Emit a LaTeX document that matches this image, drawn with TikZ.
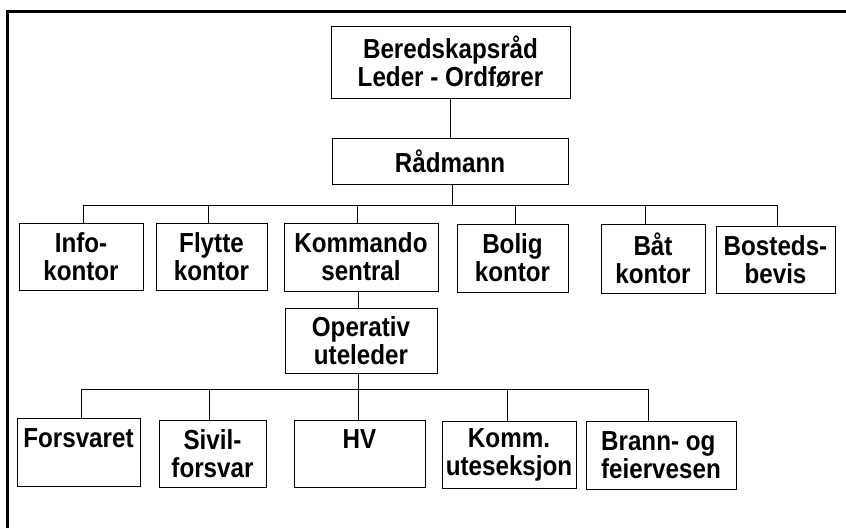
\documentclass[tikz,border=0pt]{standalone}
\usepackage{fontspec}
\setmainfont{Liberation Sans}[FakeStretch=0.88]
\begin{document}
\begin{tikzpicture}[x=1pt,y=-1pt,
  orgbox/.style={draw, line width=0.8pt, inner sep=0pt, align=center,
    font=\bfseries\fontsize{27.5}{28}\selectfont},
  conn/.style={line width=0.8pt},
  frameline/.style={line width=3pt}]
\useasboundingbox (0,0) rectangle (846,528);
% frame (top and left)
\coordinate (fa) at (7,528);
\coordinate (fb) at (7,11);
\coordinate (fc) at (846,11);
\draw[frameline] (fa) -- (fb) -- (fc);
% nodes
\node[orgbox, minimum width=239, minimum height=72] (top) at (450.5,62) {Beredskapsråd\\Leder - Ordfører};
\node[orgbox, minimum width=236, minimum height=46] (rad) at (450,161) {Rådmann};
\node[orgbox, minimum width=124, minimum height=67] (info) at (81,256.5) {Info-\\kontor};
\node[orgbox, minimum width=111, minimum height=67] (flytte) at (211.5,256.5) {Flytte\\kontor};
\node[orgbox, minimum width=154, minimum height=68] (komm) at (361,257) {Kommando\\sentral};
\node[orgbox, minimum width=111, minimum height=68] (bolig) at (512.5,258) {Bolig\\kontor};
\node[orgbox, minimum width=104, minimum height=69] (baat) at (653,258.5) {Båt\\kontor};
\node[orgbox, minimum width=119, minimum height=67] (bosted) at (775.5,259.5) {Bosteds-\\bevis};
\node[orgbox, minimum width=152, minimum height=65] (oper) at (361,340.5) {Operativ\\uteleder};
\node[orgbox, minimum width=123, minimum height=68] (forsv) at (78.5,452) {Forsvaret\\\mbox{}};
\node[orgbox, minimum width=107, minimum height=67] (sivil) at (212.5,453.5) {Sivil-\\forsvar};
\node[orgbox, minimum width=131, minimum height=67] (hv) at (359.5,453.5) {HV\\\mbox{}};
\node[orgbox, minimum width=134, minimum height=67] (kommu) at (509,454.5) {Komm.\\uteseksjon};
\node[orgbox, minimum width=150, minimum height=68, align=left] (brann) at (661,455) {Brann- og\\feiervesen};
% upper bus
\coordinate (bus) at (452,205);
\coordinate (t1) at (83,205);
\coordinate (t2) at (208,205);
\coordinate (t3) at (357,205);
\coordinate (t4) at (515,205);
\coordinate (t5) at (645,205);
\coordinate (t6) at (777,205);
\draw[conn] (top.south) -- (top.south |- rad.north);
\draw[conn] (bus |- rad.south) -- (bus);
\draw[conn] (t1) -- (t6);
\draw[conn] (t1) -- (t1 |- info.north);
\draw[conn] (t2) -- (t2 |- flytte.north);
\draw[conn] (t3) -- (t3 |- komm.north);
\draw[conn] (t4) -- (t4 |- bolig.north);
\draw[conn] (t5) -- (t5 |- baat.north);
\draw[conn] (t6) -- (t6 |- bosted.north);
% lower part
\coordinate (k) at (358,389);
\coordinate (u1) at (81,389);
\coordinate (u2) at (209,389);
\coordinate (u4) at (507,389);
\coordinate (u5) at (648,389);
\draw[conn] (k |- komm.south) -- (k |- oper.north);
\draw[conn] (k |- oper.south) -- (k |- hv.north);
\draw[conn] (u1) -- (u5);
\draw[conn] (u1) -- (u1 |- forsv.north);
\draw[conn] (u2) -- (u2 |- sivil.north);
\draw[conn] (u4) -- (u4 |- kommu.north);
\draw[conn] (u5) -- (u5 |- brann.north);
\end{tikzpicture}
\end{document}
